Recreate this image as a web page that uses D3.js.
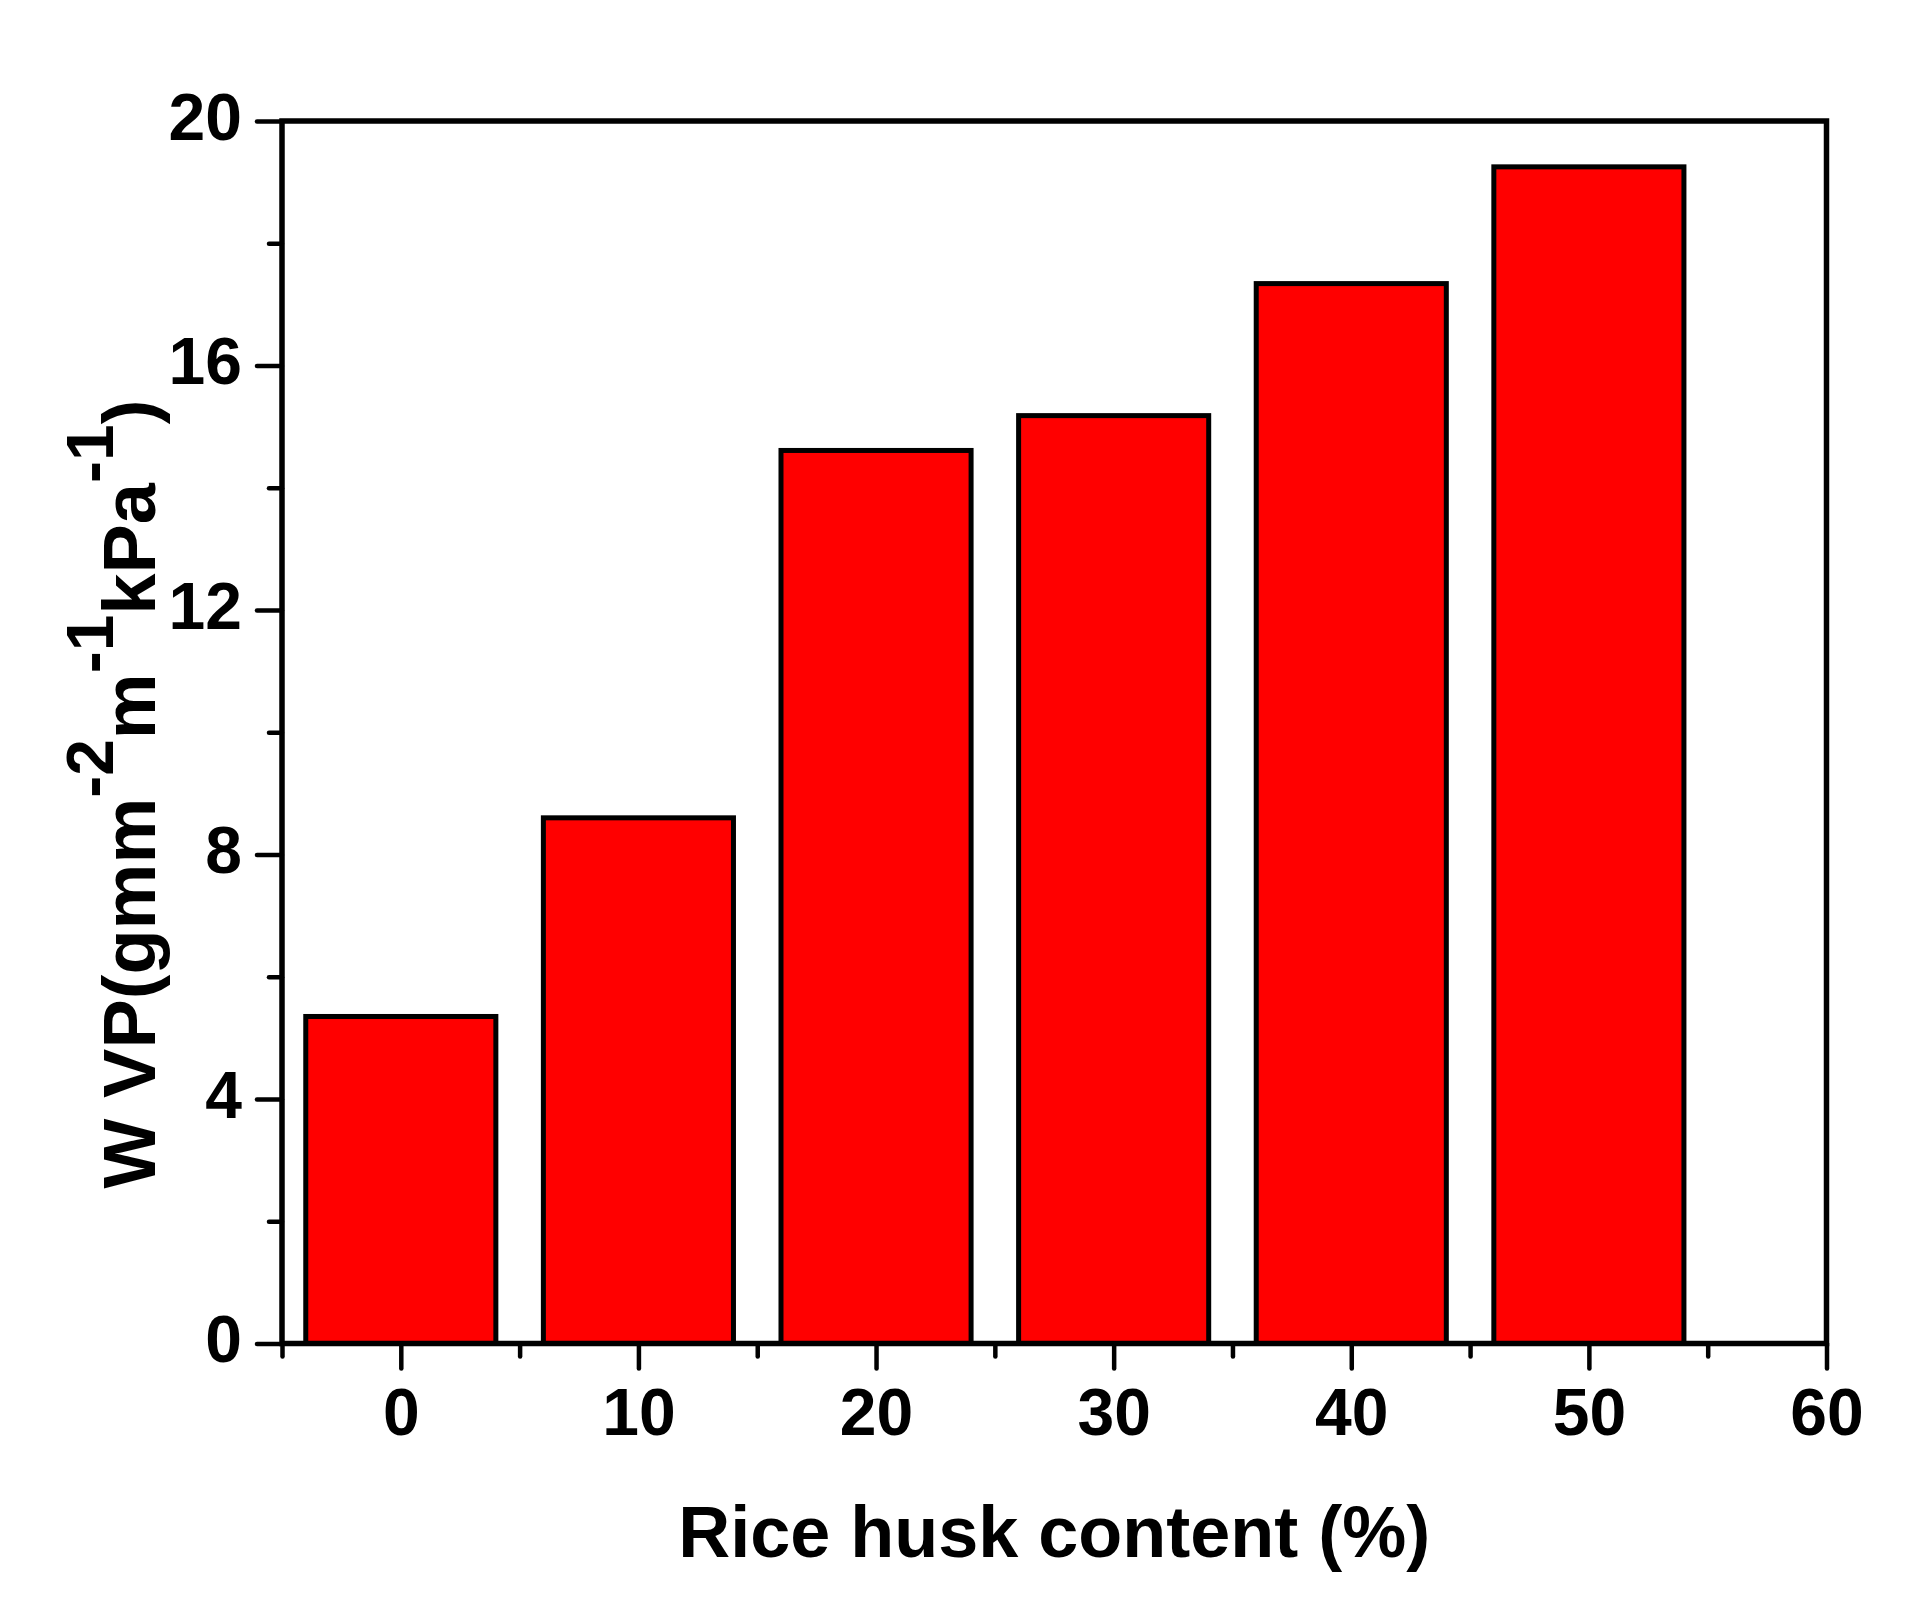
<!DOCTYPE html>
<html>
<head>
<meta charset="utf-8">
<script src="https://cdn.jsdelivr.net/npm/d3@7"></script>
<style>
html,body{margin:0;padding:0;background:#fff;}
svg{display:block;}
text{font-family:"Liberation Sans",Arial,sans-serif;font-weight:bold;fill:#000;}
</style>
</head>
<body>
<svg id="chart" width="1910" height="1611"></svg>
<script>
// ---- data ----
const categories = [0, 10, 20, 30, 40, 50];
const wvpValues = [5.35, 8.6, 14.61, 15.18, 17.34, 19.25];
const xTickValues = [0, 10, 20, 30, 40, 50, 60];
const xMinorTicks = [-5, 5, 15, 25, 35, 45, 55];
const yTickValues = [0, 4, 8, 12, 16, 20];
const yMinorTicks = [2, 6, 10, 14, 18];
const xTitle = "Rice husk content (%)";
const yTitleParts = [
  {t: "W VP(gmm", sup: false},
  {t: "-2", sup: true},
  {t: "m", sup: false},
  {t: "-1", sup: true},
  {t: "kPa", sup: false},
  {t: "-1", sup: true},
  {t: ")", sup: false}
];

const svg = d3.select("#chart");
const L = 282, R = 1826.5, T = 121, B = 1343.5;

const x = d3.scaleLinear().domain([-5, 60]).range([L, R]);
const y = d3.scaleLinear().domain([0, 20]).range([B, T]);
const barW = x(8) - x(0);

// bars
svg.append("g").selectAll("rect")
  .data(categories.map((c, i) => ({c, v: wvpValues[i]})))
  .join("rect")
  .attr("x", d => x(d.c) - barW / 2)
  .attr("y", d => y(d.v))
  .attr("width", barW)
  .attr("height", d => y(0) - y(d.v))
  .attr("fill", "#ff0000")
  .attr("stroke", "#000")
  .attr("stroke-width", 5);

// axes
function styleAxis(g) {
  g.select(".domain").remove();
  g.selectAll(".tick line").attr("stroke", "#000").attr("stroke-width", 4.5).attr("stroke-linecap", "round");
  g.selectAll(".tick text").attr("font-size", 66).attr("fill", "#000")
    .attr("font-family", '"Liberation Sans",Arial,sans-serif').attr("font-weight", "bold");
}

const xAxis = svg.append("g").attr("transform", `translate(0,${B})`)
  .call(d3.axisBottom(x).tickValues(xTickValues).tickSize(25).tickPadding(16).tickFormat(d3.format("d")));
styleAxis(xAxis);
xAxis.selectAll(".tick text").attr("dy", null).attr("y", 91);

const xMinor = svg.append("g").attr("transform", `translate(0,${B})`)
  .call(d3.axisBottom(x).tickValues(xMinorTicks).tickSize(13).tickFormat(""));
styleAxis(xMinor);

const yAxis = svg.append("g").attr("transform", `translate(${L},0)`)
  .call(d3.axisLeft(y).tickValues(yTickValues).tickSize(25).tickFormat(d3.format("d")));
styleAxis(yAxis);
yAxis.selectAll(".tick text").attr("dy", null).attr("x", -40).attr("y", 18);

const yMinor = svg.append("g").attr("transform", `translate(${L},0)`)
  .call(d3.axisLeft(y).tickValues(yMinorTicks).tickSize(13).tickFormat(""));
styleAxis(yMinor);

// frame
svg.append("rect")
  .attr("x", L).attr("y", T).attr("width", R - L).attr("height", B - T)
  .attr("fill", "none").attr("stroke", "#000").attr("stroke-width", 5.5);

// x title
svg.append("text")
  .attr("x", (L + R) / 2).attr("y", 1557)
  .attr("text-anchor", "middle").attr("font-size", 72)
  .text(xTitle);

// y title
const yt = svg.append("text")
  .attr("transform", `translate(155,794) rotate(-90)`)
  .attr("text-anchor", "middle").attr("font-size", 74);
let raised = false;
yTitleParts.forEach(p => {
  const ts = yt.append("tspan").text(p.t);
  if (p.sup && !raised) { ts.attr("dy", -42).attr("font-size", 66); raised = true; }
  else if (!p.sup && raised) { ts.attr("dy", 42); raised = false; }
  else if (p.sup) { ts.attr("font-size", 66); }
});
</script>
</body>
</html>
